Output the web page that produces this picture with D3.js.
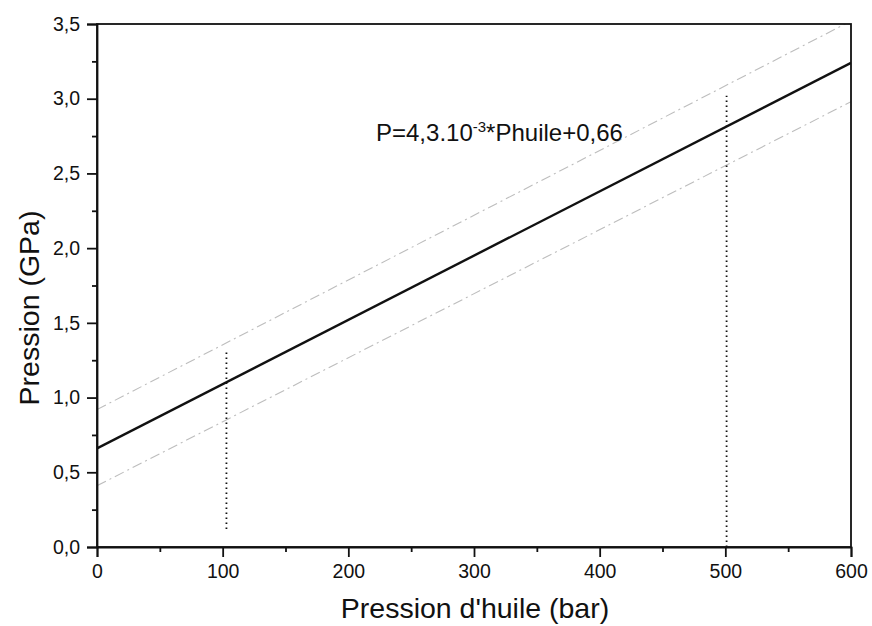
<!DOCTYPE html>
<html>
<head>
<meta charset="utf-8">
<script src="https://cdn.jsdelivr.net/npm/d3@7"></script>
<style>
  body { margin: 0; background: #fff; }
  svg text { font-family: Arial, "Liberation Sans", sans-serif; fill: #111; }
</style>
</head>
<body>
<svg id="chart" width="872" height="626"></svg>
<script>
// data
const xDomain = [0, 600];
const yDomain = [0, 3.5];
const xTicks = [0, 100, 200, 300, 400, 500, 600];
const yTicks = [0, 0.5, 1.0, 1.5, 2.0, 2.5, 3.0, 3.5];
const fitLine = [[0, 0.66], [600, 3.24]];
const upperBand = [[0, 0.92], [600, 3.52]];
const lowerBand = [[0, 0.41], [600, 2.98]];
const markers = [
  { x: 103, y0: 0.12, y1: 1.31 },
  { x: 501, y0: 0.0, y1: 3.02 }
];
const equation = "P=4,3.10";
const eqExp = "-3";
const eqTail = "*Phuile+0,66";

const svg = d3.select("#chart");
const margin = { left: 97, right: 21, top: 24, bottom: 79 };
const W = 872, H = 626;

const x = d3.scaleLinear().domain(xDomain).range([margin.left, W - margin.right]);
const y = d3.scaleLinear().domain(yDomain).range([H - margin.bottom, margin.top]);

const fmt = d => d3.format(".1f")(d).replace(".", ",");

// clip for the band lines
svg.append("defs").append("clipPath").attr("id", "plotClip")
  .append("rect")
  .attr("x", x(0)).attr("y", y(3.5))
  .attr("width", x(600) - x(0)).attr("height", y(0) - y(3.5));

const line = d3.line().x(d => x(d[0])).y(d => y(d[1]));

const g = svg.append("g").attr("clip-path", "url(#plotClip)");

[upperBand, lowerBand].forEach(band => {
  g.append("path").datum(band)
    .attr("d", line).attr("fill", "none")
    .attr("stroke", "#bdbdbd").attr("stroke-width", 1.1)
    .attr("stroke-dasharray", "10,4,2,4");
});

g.append("path").datum(fitLine)
  .attr("d", line).attr("fill", "none")
  .attr("stroke", "#111").attr("stroke-width", 2.4);

svg.append("g").selectAll("line")
  .data(markers)
  .enter().append("line")
  .attr("x1", d => x(d.x)).attr("x2", d => x(d.x))
  .attr("y1", d => y(d.y0)).attr("y2", d => y(d.y1))
  .attr("stroke", "#111").attr("stroke-width", 1.8)
  .attr("stroke-dasharray", "1.5,3.5");

// frame
svg.append("rect")
  .attr("x", x(0)).attr("y", y(3.5))
  .attr("width", x(600) - x(0)).attr("height", y(0) - y(3.5))
  .attr("fill", "none").attr("stroke", "#111").attr("stroke-width", 1.8);

// axes
svg.append("g")
  .attr("transform", `translate(0,${y(0)})`)
  .call(d3.axisBottom(x).tickValues(xTicks).tickSize(10).tickPadding(7));
svg.append("g")
  .attr("transform", `translate(0,${y(0)})`)
  .call(d3.axisBottom(x).tickValues(d3.range(50, 600, 100)).tickSize(5).tickFormat(""))
  .call(a => a.select(".domain").remove());

svg.append("g")
  .attr("transform", `translate(${x(0)},0)`)
  .call(d3.axisLeft(y).tickValues(yTicks).tickSize(10).tickPadding(7).tickFormat(fmt));
svg.append("g")
  .attr("transform", `translate(${x(0)},0)`)
  .call(d3.axisLeft(y).tickValues(d3.range(0.25, 3.5, 0.5)).tickSize(5).tickFormat(""))
  .call(a => a.select(".domain").remove());

svg.selectAll(".tick line").attr("stroke", "#111").attr("stroke-width", 1.8);
svg.selectAll(".domain").attr("stroke", "#111").attr("stroke-width", 1.8);
svg.selectAll(".tick text").style("font-size", "19.5px").style("fill", "#111");

// axis titles
svg.append("text")
  .attr("x", 475).attr("y", 618)
  .attr("text-anchor", "middle").style("font-size", "28.5px")
  .text("Pression d'huile (bar)");

svg.append("text")
  .attr("transform", "translate(39,308) rotate(-90)")
  .attr("text-anchor", "middle").style("font-size", "28.5px")
  .text("Pression (GPa)");

// equation
const eq = svg.append("text")
  .attr("x", 376).attr("y", 141).style("font-size", "24px");
eq.append("tspan").text(equation);
eq.append("tspan").attr("dy", -9).style("font-size", "15px").text(eqExp);
eq.append("tspan").attr("dy", 9).text(eqTail);
</script>
</body>
</html>
